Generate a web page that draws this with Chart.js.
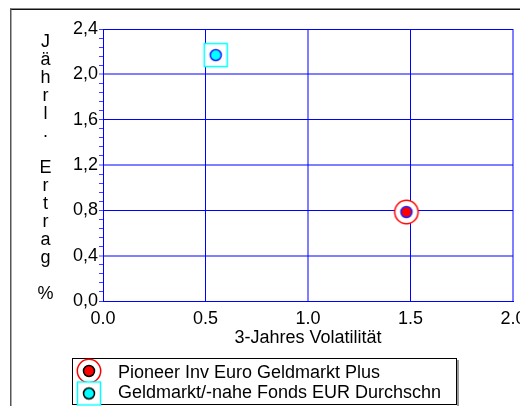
<!DOCTYPE html>
<html>
<head>
<meta charset="utf-8">
<script src="https://cdn.jsdelivr.net/npm/chart.js@4.4.1/dist/chart.umd.min.js"></script>
<style>
html, body { margin: 0; padding: 0; background: #fff; }
</style>
</head>
<body>
<canvas id="chart" width="520" height="406"></canvas>
<script>
const seriesNames = ['Pioneer Inv Euro Geldmarkt Plus', 'Geldmarkt/-nahe Fonds EUR Durchschn']
const volatility = [1.48, 0.55]
const annualReturn = [0.785, 2.17]
const xTicks = [0, 0.5, 1.0, 1.5, 2.0]
const yTicks = [0, 0.4, 0.8, 1.2, 1.6, 2.0, 2.4]
const xTitle = '3-Jahres Volatilität'
const yTitle = ['J', 'ä', 'h', 'r', 'l', '.', '', 'E', 'r', 't', 'r', 'a', 'g', '', '%']

const FONT = "'Liberation Sans', Arial, sans-serif"
Chart.defaults.font.family = FONT
Chart.defaults.font.size = 18
Chart.defaults.color = '#000'

const BLUE = '#0000ff'
const LIGHT = 'rgba(0,0,255,0.5)'

// markers: red ring + dot, cyan square + dot
function marker(kind, ring) {
	const c = document.createElement('canvas')
	c.width = 28
	c.height = 28
	const g = c.getContext('2d')
	if (kind == 'red') {
		g.beginPath()
		g.arc(14, 14, 11.7, 0, Math.PI * 2)
		g.fillStyle = '#fff'
		g.fill()
		g.lineWidth = 1.5
		g.strokeStyle = '#ff0000'
		g.stroke()
	} else {
		g.fillStyle = '#fff'
		g.fillRect(2.5, 2.5, 23, 23)
		g.lineWidth = 1.5
		g.strokeStyle = '#00ffff'
		g.strokeRect(2.5, 2.5, 23, 23)
	}
	g.beginPath()
	g.arc(14, 14, 5.5, 0, Math.PI * 2)
	g.fillStyle = kind == 'red' ? '#ff0000' : '#00ffff'
	g.fill()
	g.lineWidth = 1.5
	g.strokeStyle = ring
	g.stroke()
	return c
}
const redMark = marker('red', '#2020ff')
const cyanMark = marker('cyan', '#2020ff')
const legendMarks = [marker('red', '#000'), marker('cyan', '#000')]

const isMajorY = v => Math.abs(v / 0.4 - Math.round(v / 0.4)) < 1e-6
const lightY = v => [2.0, 1.2, 0.4].some(t => Math.abs(t - v) < 1e-6)
const lightX = v => v == 1.0 || v == 2.0

const extras = {
	id: 'extras',
	beforeDraw(chart) {
		const ctx = chart.ctx
		ctx.save()
		ctx.fillStyle = '#111'
		ctx.fillRect(10, 8.5, 510, 1.5)
		ctx.fillStyle = '#555'
		ctx.fillRect(10, 8.5, 1.5, 398)
		ctx.restore()
	},
	afterDraw(chart) {
		const ctx = chart.ctx
		ctx.save()
		ctx.font = '18px ' + FONT
		ctx.fillStyle = '#000'
		ctx.textAlign = 'center'
		ctx.textBaseline = 'alphabetic'
		yTitle.forEach((ch, i) => ctx.fillText(ch, 45.5, 46.5 + 18 * i))

		// legend box
		ctx.fillStyle = '#999'
		ctx.fillRect(457, 360, 2, 46)
		ctx.strokeStyle = '#000'
		ctx.lineWidth = 1
		ctx.fillStyle = '#fff'
		ctx.fillRect(72.5, 358.5, 384, 46)
		ctx.strokeRect(72.5, 358.5, 384, 46)
		ctx.textAlign = 'left'
		ctx.textBaseline = 'middle'
		ctx.fillStyle = '#000'
		chart.data.datasets.forEach((ds, i) => {
			const my = 371 + 22.5 * i
			ctx.drawImage(legendMarks[i], 89 - 14, my - 14)
			ctx.fillText(ds.label, 118, 373 + 20 * i)
		})
		ctx.restore()
	}
}

new Chart('chart', {
	type: 'scatter',
	data: {
		datasets: [{
			label: seriesNames[0],
			data: [{ x: volatility[0], y: annualReturn[0] }],
			pointStyle: redMark
		}, {
			label: seriesNames[1],
			data: [{ x: volatility[1], y: annualReturn[1] }],
			pointStyle: cyanMark
		}]
	},
	options: {
		responsive: false,
		animation: false,
		layout: {
			padding: { top: 29, right: 7, left: 0, bottom: 0 },
			autoPadding: false
		},
		plugins: {
			legend: { display: false },
			tooltip: { enabled: false }
		},
		scales: {
			x: {
				type: 'linear',
				min: 0,
				max: 2,
				afterBuildTicks: s => { s.ticks = xTicks.map(v => ({ value: v })) },
				afterFit: s => {
					s.height = 105
					s.paddingLeft = 0
					s.paddingRight = 0
				},
				ticks: {
					callback: v => v.toFixed(1),
					padding: 7,
					maxRotation: 0,
					autoSkip: false
				},
				grid: {
					drawTicks: false,
					color: c => lightX(c.tick.value) ? LIGHT : BLUE,
					lineWidth: c => lightX(c.tick.value) ? 2 : 1
				},
				border: { color: BLUE },
				title: {
					display: true,
					text: xTitle,
					padding: { top: 0, bottom: 57 }
				}
			},
			y: {
				type: 'linear',
				min: 0,
				max: 2.4,
				afterBuildTicks: s => {
					const t = []
					yTicks.forEach((v, i) => {
						t.push({ value: v })
						if (i < yTicks.length - 1)
							for (let k = 1; k < 5; k++) t.push({ value: v + (yTicks[i + 1] - v) * k / 5 })
					})
					s.ticks = t
				},
				afterFit: s => {
					s.width = 103
					s.paddingTop = 0
					s.paddingBottom = 0
				},
				ticks: {
					callback: v => isMajorY(v) ? v.toFixed(1).replace('.', ',') : '',
					padding: 1,
					autoSkip: false
				},
				grid: {
					tickLength: 4,
					tickColor: '#4040ff',
					tickWidth: 1,
					color: c => !isMajorY(c.tick.value) ? 'rgba(0,0,0,0)' : (lightY(c.tick.value) ? LIGHT : BLUE),
					lineWidth: c => lightY(c.tick.value) ? 2 : 1
				},
				border: { color: BLUE }
			}
		}
	},
	plugins: [extras]
})
</script>
</body>
</html>
